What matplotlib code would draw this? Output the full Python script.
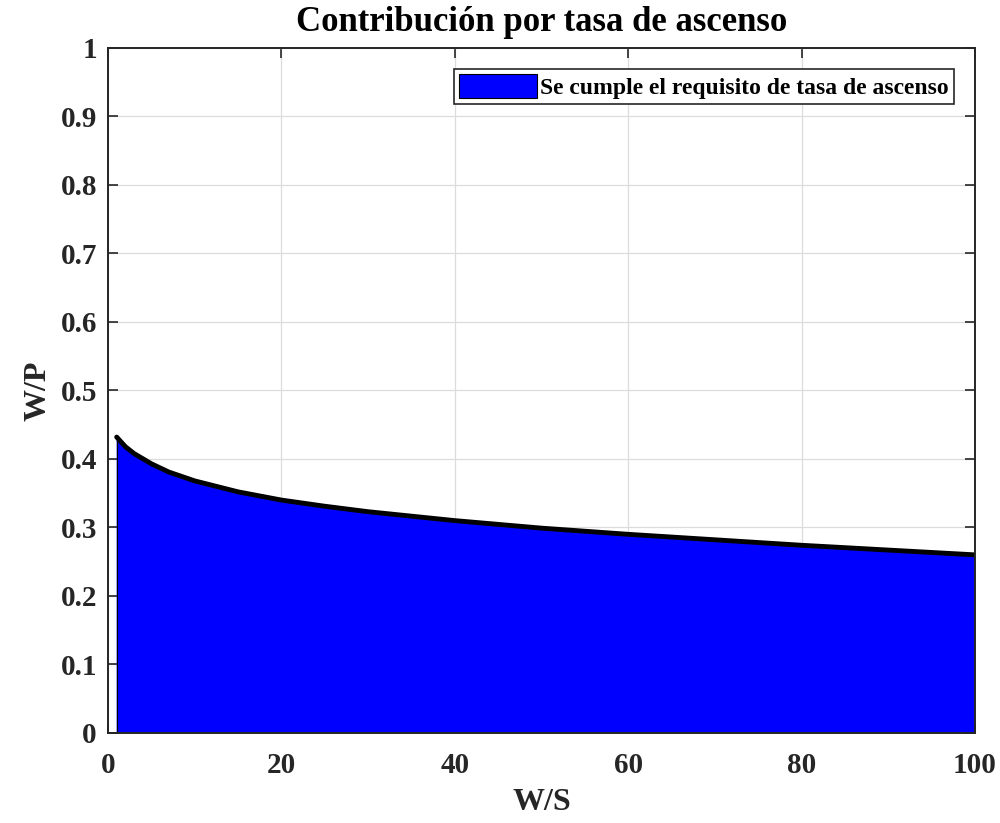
import numpy as np
import matplotlib.pyplot as plt

# Datos
ws = [1, 2, 3, 5, 7, 10, 15, 20, 25, 30, 40, 50, 60, 70, 80, 90, 100]
wp = [0.432, 0.418, 0.408, 0.393, 0.381, 0.368, 0.352, 0.340, 0.331, 0.323,
      0.310, 0.299, 0.290, 0.282, 0.274, 0.267, 0.260]
xticks = [0, 20, 40, 60, 80, 100]
yticks = [0, 0.1, 0.2, 0.3, 0.4, 0.5, 0.6, 0.7, 0.8, 0.9, 1]
ytlabels = ['0', '0.1', '0.2', '0.3', '0.4', '0.5', '0.6', '0.7', '0.8', '0.9', '1']

plt.rcParams['font.family'] = ['Liberation Serif', 'DejaVu Serif']
plt.rcParams['font.weight'] = 'bold'

fig = plt.figure(figsize=(10, 8.23), dpi=100)
ax = fig.add_axes([0.108, 0.1094, 0.867, 0.8323])

ax.fill_between(ws, wp, 0, facecolor='#0000ff', edgecolor='none',
                label='Se cumple el requisito de tasa de ascenso')
ax.plot(ws, wp, color='black', lw=3.5, solid_capstyle='round')
ax.plot([ws[0], ws[0]], [0, wp[0]], color='black', lw=0.8)
ax.plot([ws[0], ws[-1]], [0, 0], color='black', lw=0.8)

ax.set_xlim(0, 100)
ax.set_ylim(0, 1)
ax.set_xticks(xticks)
ax.set_yticks(yticks)
ax.set_yticklabels(ytlabels)
ax.grid(True, color='#dcdcdc', lw=0.9)
ax.set_axisbelow(True)
ax.tick_params(direction='in', length=7, width=1.2, labelsize=21, top=True, right=True,
               colors='#262626', labelcolor='#262626')
ax.tick_params(axis='x', pad=14)
ax.tick_params(axis='y', pad=8)
for s in ax.spines.values():
    s.set_linewidth(1.4)
    s.set_color('#262626')

ax.set_xlabel('W/S', fontsize=23, fontweight='bold', color='#262626', labelpad=6)
ax.set_ylabel('W/P', fontsize=23, fontweight='bold', color='#262626', labelpad=6)
ax.set_title('Contribución por tasa de ascenso', fontsize=25, fontweight='bold', pad=12)

leg = ax.legend(loc='upper right', fontsize=17, fancybox=False, framealpha=1,
                edgecolor='#262626', handlelength=3.3, handleheight=1.2,
                borderpad=0.2, handletextpad=0.15, borderaxespad=0.9)
leg.get_frame().set_linewidth(1.2)
leg.legend_handles[0].set_edgecolor('black')
leg.legend_handles[0].set_linewidth(0.8)

fig.savefig('out.png', dpi=100)
